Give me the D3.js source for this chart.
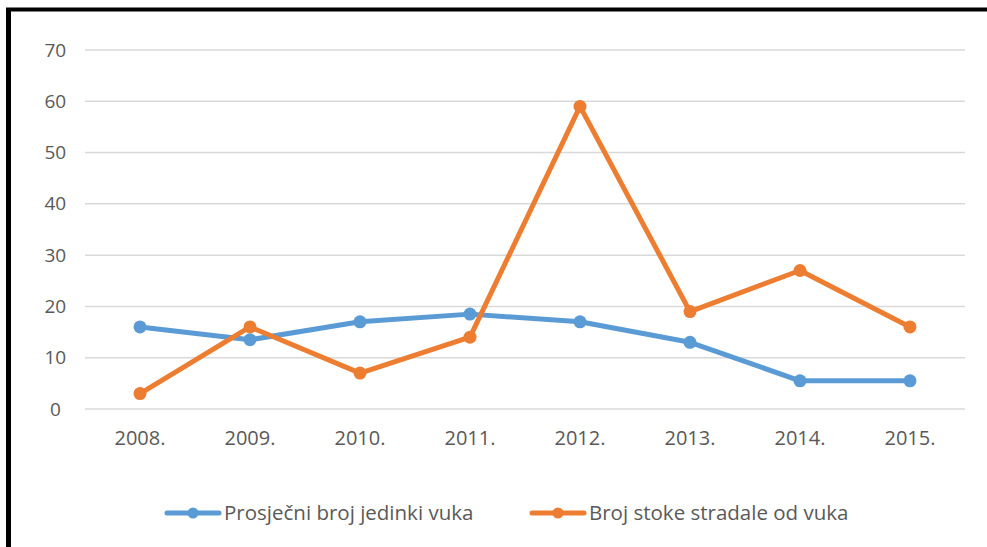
<!DOCTYPE html>
<html>
<head>
<meta charset="utf-8">
<script src="https://cdn.jsdelivr.net/npm/d3@7"></script>
<style>
body{margin:0;background:#fff;}
svg text{font-family:"Open Sans","Liberation Sans",sans-serif;fill:#595959;}
</style>
</head>
<body>
<div id="grafica"></div>
<script>
var godine=["2008.","2009.","2010.","2011.","2012.","2013.","2014.","2015."]
var vukovi=[16,13.5,17,18.5,17,13,5.5,5.5]
var stoka=[3,16,7,14,59,19,27,16]
var yTicks=[0,10,20,30,40,50,60,70]
var nazivi=["Prosječni broj jedinki vuka","Broj stoke stradale od vuka"]
var boje=["#5b9bd5","#ed7d31"]

grafica()

function grafica(){
	var W=987,H=547
	var svg=d3.select("#grafica").append("svg")
		.attr("width",W).attr("height",H)

	// okvir: gore i lijevo
	svg.append("line").attr("x1",6).attr("x2",W).attr("y1",9.5).attr("y2",9.5)
		.style("stroke","#000").style("stroke-width",4)
	svg.append("line").attr("x1",8.5).attr("x2",8.5).attr("y1",8).attr("y2",H)
		.style("stroke","#000").style("stroke-width",5)

	var x=d3.scaleBand().domain(godine).range([85,965])
	var y=d3.scaleLinear().domain([0,70]).range([409,50])

	//mreza
	svg.selectAll(".grid").data(yTicks).enter().append("line")
		.attr("x1",85).attr("x2",965)
		.attr("y1",d=>y(d)).attr("y2",d=>y(d))
		.style("stroke","#d9d9d9").style("stroke-width",1.5)

	var ejeY=svg.append("g").attr("transform","translate(85,0)")
		.call(d3.axisLeft(y).tickValues(yTicks).tickSize(0).tickPadding(24))
	ejeY.select(".domain").remove()
	ejeY.selectAll("text").style("font-size","19px").attr("text-anchor","middle").attr("dx","-0.3em")

	var ejeX=svg.append("g").attr("transform","translate(0,409)")
		.call(d3.axisBottom(x).tickSize(0).tickPadding(22))
	ejeX.select(".domain").remove()
	ejeX.selectAll("text").style("font-size","20px")

	var serije=[vukovi,stoka]
	var linea=d3.line()
		.x((d,i)=>x(godine[i])+x.bandwidth()/2)
		.y(d=>y(d))

	serije.forEach(function(s,k){
		svg.append("path").datum(s)
			.attr("d",linea)
			.style("fill","none").style("stroke",boje[k])
			.style("stroke-width",5).style("stroke-linejoin","round")
		svg.selectAll(".p"+k).data(s).enter().append("circle")
			.attr("cx",(d,i)=>x(godine[i])+x.bandwidth()/2)
			.attr("cy",d=>y(d))
			.attr("r",6.5)
			.style("fill",boje[k])
	})

	//legenda
	var legX=[167,532]
	nazivi.forEach(function(n,k){
		var g=svg.append("g").attr("transform","translate("+legX[k]+",513)")
		g.append("line").attr("x1",0).attr("x2",52)
			.style("stroke",boje[k]).style("stroke-width",5).style("stroke-linecap","round")
		g.append("circle").attr("cx",26).attr("r",5.5).style("fill",boje[k])
		g.append("text").attr("x",57).attr("dy","0.35em")
			.style("font-size","20.5px").text(n)
	})
}
</script>
</body>
</html>
